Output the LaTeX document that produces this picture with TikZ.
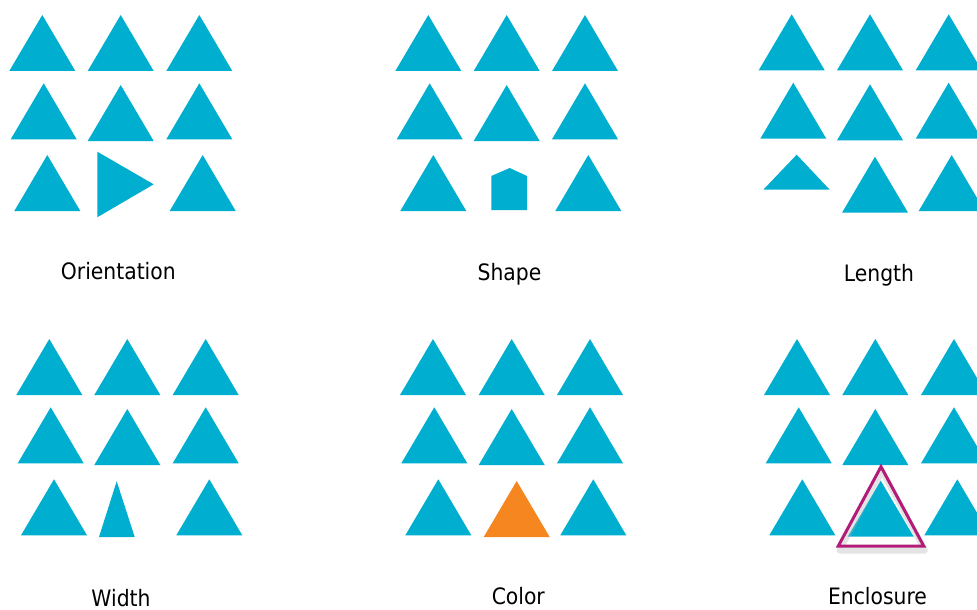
\documentclass[tikz,border=0pt]{standalone}
\usepackage{fontspec}
\setmainfont{DejaVu Sans Condensed}
\definecolor{tricyan}{RGB}{0,174,207}
\definecolor{triorange}{RGB}{245,134,32}
\definecolor{encmag}{RGB}{178,28,120}
\tikzset{
  tri/.style={fill=tricyan},
  lbl/.style={anchor=base, inner sep=0pt, font=\fontsize{22.6}{26}\selectfont, text=black},
}
\newcommand\Tri[2]{\fill[tri] (#1,#2) -- ++(-33,56) -- ++(66,0) -- cycle;}
\begin{document}
\begin{tikzpicture}[x=1pt,y=-1pt]
\useasboundingbox (0,0) rectangle (977,610);
% Panel 1: Orientation
\Tri{42.3}{15}\Tri{120.7}{15}\Tri{199.3}{15}
\Tri{43.7}{83.3}\Tri{120.7}{85}\Tri{199.3}{83.3}
\Tri{47.3}{155}\Tri{202.7}{155}
\fill[tri] (97.3,151.7) -- (97.3,217.3) -- (153.7,184.3) -- cycle;
\node[lbl] (l1) at (118.3,279.5) {Orientation};
% Panel 2: Shape
\Tri{428.3}{15}\Tri{506.7}{15}\Tri{585}{15}
\Tri{429.7}{83.3}\Tri{506.7}{85}\Tri{585}{83.3}
\Tri{433.3}{155}\Tri{588.3}{155}
\fill[tri] (491.3,176) -- (509.7,168) -- (527,176) -- (527,210) -- (491.3,210) -- cycle;
\node[lbl] (l2) at (509.5,280) {Shape};
% Panel 3: Length
\Tri{791.7}{14.3}\Tri{870}{14.3}\Tri{948.7}{14.3}
\Tri{793.3}{82.7}\Tri{870}{84.3}\Tri{948.7}{82.7}
\fill[tri] (796.7,154.7) -- (829.7,189.7) -- (763.3,189.7) -- cycle;
\Tri{875}{156.7}\Tri{951.7}{155}
\node[lbl] (l3) at (879,281) {Length};
% Panel 4: Width
\Tri{49.3}{339}\Tri{127.3}{339}\Tri{205.7}{339}
\Tri{50.7}{407.3}\Tri{127.3}{409}\Tri{205.7}{407.3}
\Tri{54}{479.3}\Tri{209.3}{479.3}
\fill[tri] (116.7,481.3) -- (134.7,537) -- (99,537) -- cycle;
\node[lbl] (l4) at (121,606.5) {Width};
% Panel 5: Color
\Tri{433}{339}\Tri{511.7}{339}\Tri{590}{339}
\Tri{434.3}{407.3}\Tri{511.7}{409}\Tri{590}{407.3}
\Tri{438.3}{479.3}\Tri{593.3}{479.3}
\fill[triorange] (516.7,481) -- ++(-33,56) -- ++(66,0) -- cycle;
\node[lbl] (l5) at (518.3,604) {Color};
% Panel 6: Enclosure
\Tri{797}{339}\Tri{875.3}{339}\Tri{954}{339}
\Tri{798.7}{407.3}\Tri{875.3}{409}\Tri{954}{407.3}
\Tri{802.3}{479.3}\Tri{880.7}{480.7}\Tri{957.3}{479.3}
\draw[black!30, opacity=0.35, line width=6pt, line join=round] (882,471) -- (925,550.5) -- (839.5,550.5) -- cycle;
\draw[encmag, line width=3pt, line join=miter] (881,466.7) -- (923.7,546) -- (838.3,546) -- cycle;
\node[lbl] (l6) at (877.5,604.3) {Enclosure};
\end{tikzpicture}
\end{document}
